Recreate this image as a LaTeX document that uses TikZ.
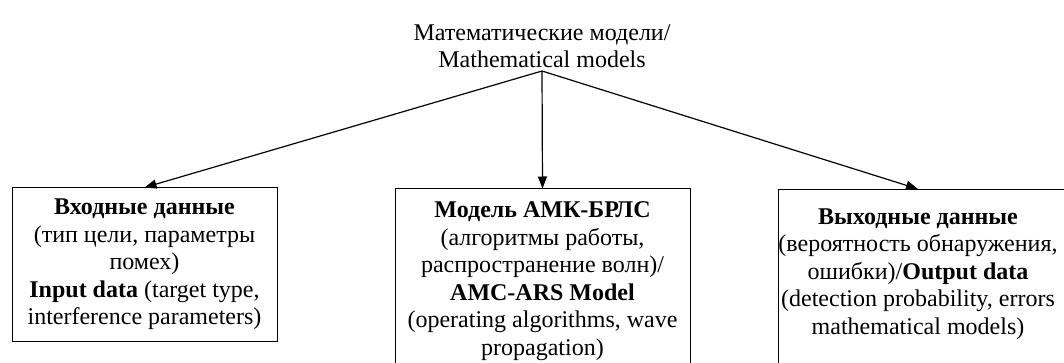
\documentclass[tikz,border=0pt]{standalone}
\usepackage{fontspec}
\setmainfont{Liberation Serif}
\usetikzlibrary{arrows.meta}
\begin{document}
\begin{tikzpicture}[x=1pt,y=-1pt,
  txt/.style={font=\fontsize{24}{27.5}\selectfont, align=center, inner sep=0pt},
  box/.style={draw, line width=1pt, inner sep=0pt, txt},
  conn/.style={line width=1.2pt, -{Triangle[length=12pt,width=9pt]}}]
\useasboundingbox (0,0) rectangle (1064,363);
\clip (0,0) rectangle (1064,363);
\node[txt, anchor=south] (title) at (542,68) {Математические модели/\\Mathematical models};
\coordinate (apex) at (542,71);
\node[box, minimum width=265pt, minimum height=153pt] (in) at (144.5,264.5)
  {\textbf{Входные данные}\\(тип цели, параметры\\помех)\\\textbf{Input data} (target type,\\interference parameters)};
\node[box, minimum width=295pt, minimum height=184pt] (mid) at (542.5,281)
  {\textbf{Модель АМК-БРЛС}\\(алгоритмы работы,\\распространение волн)/\\\textbf{AMC-ARS Model}\\(operating algorithms, wave\\propagation)};
\node[draw, line width=1pt, inner sep=0pt, minimum width=312pt, minimum height=191pt, anchor=north west] (out) at (778,189) {};
\node[txt] (outtext) at (918,274)
  {\textbf{Выходные данные}\\(вероятность обнаружения,\\ошибки)/\textbf{Output data}\\(detection probability, errors\\mathematical models)};
\coordinate (outtop) at (out.north -| outtext);
\draw[conn] (apex) -- (in.north);
\draw[conn] (apex) -- (mid.north);
\draw[conn] (apex) -- (outtop);
\end{tikzpicture}
\end{document}
